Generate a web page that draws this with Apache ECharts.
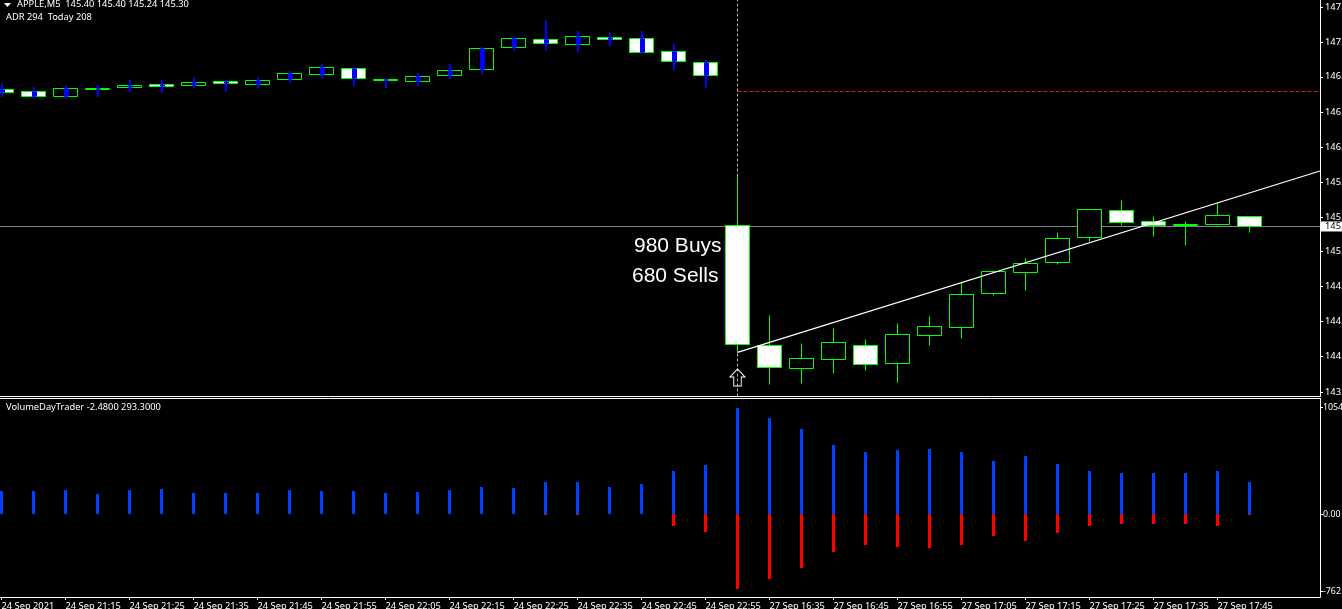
<!DOCTYPE html>
<html><head><meta charset="utf-8">
<style>html,body{margin:0;padding:0;background:#000;overflow:hidden}#c{width:1342px;height:609px}</style>
<script src="https://cdn.jsdelivr.net/npm/echarts@6/dist/echarts.min.js"></script>
</head><body><div id="c"></div>
<script>
const opens=[146.610,146.591,146.540,146.607,146.626,146.658,146.645,146.687,146.655,146.702,146.750,146.811,146.693,146.683,146.741,146.798,147.011,147.088,147.037,147.107,147.097,146.973,146.868,145.311,144.165,143.942,144.028,144.165,143.990,144.257,144.337,144.662,144.862,144.958,145.196,145.454,145.349,145.305,145.317,145.40];
const closes=[146.578,146.546,146.620,146.620,146.648,146.636,146.677,146.667,146.696,146.763,146.820,146.715,146.706,146.734,146.792,147.002,147.097,147.049,147.116,147.084,146.960,146.878,146.741,144.175,143.952,144.041,144.194,143.980,144.270,144.346,144.652,144.872,144.948,145.187,145.464,145.340,145.308,145.318,145.407,145.30];
const lows=[146.546,146.518,146.518,146.546,146.594,146.575,146.623,146.594,146.632,146.671,146.709,146.642,146.632,146.651,146.718,146.757,146.995,146.992,146.976,147.033,146.951,146.795,146.629,144.101,143.786,143.796,143.891,143.920,143.805,144.159,144.229,144.639,144.687,144.939,145.152,145.305,145.200,145.114,145.305,145.24];
const highs=[146.661,146.623,146.642,146.642,146.699,146.690,146.718,146.699,146.709,146.776,146.843,146.823,146.709,146.757,146.843,147.014,147.107,147.263,147.167,147.139,147.158,147.043,146.881,145.776,144.445,144.187,144.321,144.225,144.369,144.436,144.767,144.880,144.990,145.244,145.464,145.544,145.400,145.343,145.515,145.40];
const buys=[227,227,236,197,236,246,207,207,207,236,227,227,207,217,236,266,256,315,315,266,296,424,483,1044,946,837,680,611,630,640,611,522,571,493,424,404,404,404,424,315];
const sells=[0,0,0,0,0,0,0,0,0,0,0,0,0,0,0,0,0,-10,-10,0,0,-118,-177,-739,-640,-532,-374,-305,-325,-335,-305,-217,-266,-187,-118,-99,-99,-99,-118,-10];
const blueWickCount=23;
const trendX=[23,41.2];
const trendY=[144.098,145.83];
const lastPrice=145.30;
const redLevel=146.59;
const signalIndex=23;
const arrowPrice=143.858;
const priceTicks=[147.39,147.06,146.73,146.39,146.06,145.72,145.39,145.06,144.73,144.39,144.06,143.72];
const priceTickLabels=['147.','147.','146.','146.','146.','145.','145.','145.','144.','144.','144.','143.'];
const volTicks=[1054,0,-762];
const volTickLabels=['1054','0.00','-762'];
const xTickIndex=[0,2,4,6,8,10,12,14,16,18,20,22,24,26,28,30,32,34,36,38];
const xTickLabels=['24 Sep 2021','24 Sep 21:15','24 Sep 21:25','24 Sep 21:35','24 Sep 21:45','24 Sep 21:55','24 Sep 22:05','24 Sep 22:15','24 Sep 22:25','24 Sep 22:35','24 Sep 22:45','24 Sep 22:55','27 Sep 16:35','27 Sep 16:45','27 Sep 16:55','27 Sep 17:05','27 Sep 17:15','27 Sep 17:25','27 Sep 17:35','27 Sep 17:45'];
const titleText='APPLE,M5  145.40 145.40 145.24 145.30';
const adrText='ADR 294  Today 208';
const buysText='980 Buys';
const sellsText='680 Sells';
const volTitle='VolumeDayTrader -2.4800 293.3000';

const xMin=-0.046875,xMax=41.203125;
const priceMin=143.676,priceMax=147.4633,mainHeight=396.5;
const uiFont='"Noto Sans"';
const uiSize=9.3;
const white='#fff';
// Candlestick edges are only pixel-snapped horizontally; nudge prices by under half a pixel so horizontal edges stay crisp like the platform's.
function crisp(p){const k=mainHeight/(priceMax-priceMin);const y=Math.floor((priceMax-p)*k)+0.5;return priceMax-y/k;}
const ohlc=opens.map((o,i)=>[i,crisp(o),crisp(closes[i]),crisp(lows[i]),crisp(highs[i])]);
const wickData=ohlc.slice(0,blueWickCount);

function xAxisBase(grid,extra){return Object.assign({type:'value',gridIndex:grid,min:xMin,max:xMax,splitLine:{show:false},axisTick:{show:false},axisLabel:{show:false},
  axisLine:{show:true,onZero:false,lineStyle:{color:white,width:1}}},extra);}
function yAxisBase(grid,min,max,ticks,labels,margin,size){return {type:'value',gridIndex:grid,position:'right',min,max,splitLine:{show:false},
  axisLine:{show:true,onZero:false,lineStyle:{color:white,width:1}},
  axisTick:{show:true,length:3,customValues:ticks,lineStyle:{color:white}},
  axisLabel:{show:true,customValues:ticks,margin,color:white,fontFamily:uiFont,fontSize:size,align:'left',
    formatter:v=>labels[ticks.indexOf(v)]}};}

const chart=echarts.init(document.getElementById('c'),null,{renderer:'canvas'});
chart.setOption({
  animation:false,backgroundColor:'#000',
  grid:[{left:0,top:0,width:1320,height:mainHeight,outerBoundsMode:'none'},{left:0,top:398.5,width:1320,height:198.5,outerBoundsMode:'none'}],
  xAxis:[
    xAxisBase(0,{position:'bottom'}),
    xAxisBase(1,{position:'bottom',
      axisTick:{show:true,length:3,customValues:xTickIndex,lineStyle:{color:white}},
      axisLabel:{show:true,customValues:xTickIndex,color:white,fontFamily:uiFont,fontSize:uiSize,align:'left',margin:5,
        formatter:v=>xTickLabels[xTickIndex.indexOf(v)]}}),
    xAxisBase(1,{position:'top'})
  ],
  yAxis:[
    yAxisBase(0,priceMin,priceMax,priceTicks,priceTickLabels,5,9.3),
    yAxisBase(1,-817.7,1137.9,volTicks,volTickLabels,3,8.8)
  ],
  series:[
    {type:'line',xAxisIndex:0,yAxisIndex:0,data:[],z:1,silent:true,
     markLine:{silent:true,symbol:'none',z:1,animation:false,data:[
       [{coord:[xMin,lastPrice],lineStyle:{color:'#778899',width:1,type:'solid'},
         label:{show:true,position:'end',formatter:'145.',color:'#000',backgroundColor:'#fff',fontFamily:uiFont,fontSize:9.3,
           padding:[1,6,0,4],distance:1}},{coord:[xMax,lastPrice]}],
       [{coord:[signalIndex,redLevel],lineStyle:{color:'#d02020',width:1,type:[4,2]},label:{show:false}},{coord:[xMax,redLevel]}],
       [{coord:[signalIndex,priceMin],lineStyle:{color:'#b0b0b0',width:1,type:[3,2]},label:{show:false}},{coord:[signalIndex,priceMax]}]
     ]},
     markPoint:{silent:true,z:6,animation:false,data:[{coord:[signalIndex,arrowPrice],symbol:'path://M8 0 L16 9 L12 9 L12 19 L4 19 L4 9 L0 9 Z',symbolSize:[15,17],
       itemStyle:{color:'rgba(0,0,0,0)',borderColor:'#fff',borderWidth:1},label:{show:false}}]}},
    {type:'candlestick',name:'APPLE',xAxisIndex:0,yAxisIndex:0,z:3,barWidth:24,data:ohlc,silent:true,
     itemStyle:{color:'#000',color0:'#fff',borderColor:'#00ff00',borderColor0:'#00ff00',borderColorDoji:'#00ff00',borderWidth:1}},
    {type:'custom',name:'BlueWicks',xAxisIndex:0,yAxisIndex:0,z:4,silent:true,data:wickData,
     encode:{x:0,y:[1,2,3,4]},
     renderItem(params,api){
       const x=api.value(0);
       const top=api.coord([x,Math.max(api.value(1),api.value(2))]);
       const bot=api.coord([x,Math.min(api.value(1),api.value(2))]);
       const lo=api.coord([x,api.value(3)]);
       const hi=api.coord([x,api.value(4)]);
       const cx=Math.round(top[0]);
       return {type:'group',children:[
         {type:'rect',shape:{x:cx-1,y:hi[1],width:2,height:lo[1]-hi[1]},style:{fill:'#0000ff'}},
         {type:'rect',shape:{x:cx-2,y:top[1],width:5,height:bot[1]-top[1]},style:{fill:'#0000ff'}}
       ]};
     }},
    {type:'line',name:'Trend',xAxisIndex:0,yAxisIndex:0,z:5,silent:true,symbol:'none',data:trendX.map((x,i)=>[x,trendY[i]]),lineStyle:{color:'#fff',width:1.2}},
    {type:'bar',name:'Buys',xAxisIndex:1,yAxisIndex:1,barWidth:3,barGap:'-100%',data:buys.map((v,i)=>[i,v]),itemStyle:{color:'#0040ff'},silent:true},
    {type:'bar',name:'Sells',xAxisIndex:1,yAxisIndex:1,barWidth:3,barGap:'-100%',data:sells.map((v,i)=>[i,v]),itemStyle:{color:'#ff0000'},silent:true}
  ],
  graphic:[
    {type:'polygon',shape:{points:[[4,3],[11,3],[7.5,7]]},style:{fill:'#fff'}},
    {type:'text',x:17,y:4,style:{text:titleText,fill:'#fff',font:uiSize+'px '+uiFont,verticalAlign:'middle'}},
    {type:'text',x:6,y:17,style:{text:adrText,fill:'#fff',font:uiSize+'px '+uiFont,verticalAlign:'middle'}},
    {type:'text',x:634,y:246,style:{text:buysText,fill:'#fff',font:'21px "Liberation Sans"',verticalAlign:'middle'}},
    {type:'text',x:632,y:276,style:{text:sellsText,fill:'#fff',font:'21px "Liberation Sans"',verticalAlign:'middle'}},
    {type:'text',x:6,y:407,style:{text:volTitle,fill:'#fff',font:uiSize+'px '+uiFont,verticalAlign:'middle'}}
  ]
});
</script></body></html>
